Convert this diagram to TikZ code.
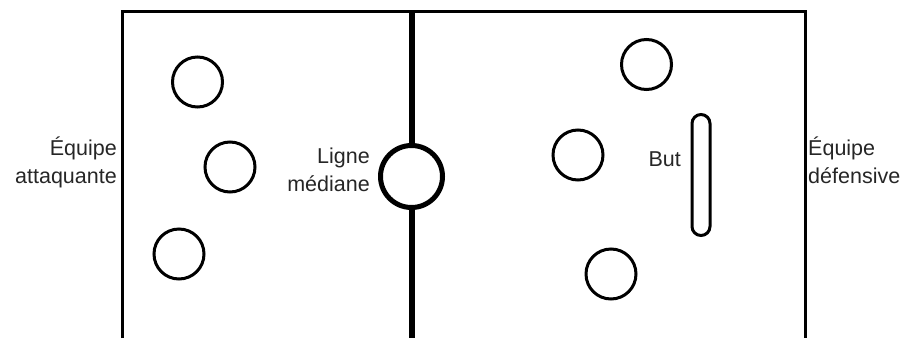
\documentclass[tikz,border=0pt]{standalone}
\usepackage{fontspec}
\setmainfont{Liberation Sans}
\begin{document}
\begin{tikzpicture}[x=1pt,y=-1pt,
  player/.style={circle,draw,line width=3pt,minimum size=50pt,inner sep=0pt},
  lbl/.style={font=\fontsize{21.5}{28}\selectfont,inner sep=0pt,text=black!85}]
\useasboundingbox (0,0) rectangle (902,338);
% field
\draw[line width=3pt] (122.5,338) -- (122.5,11.5) -- (805,11.5) -- (805,338);
% centre
\node[circle,draw,line width=5pt,minimum size=62pt,inner sep=0pt] (mid) at (411.5,176.5) {};
\coordinate (midtop) at (411.5,10);
\coordinate (midbot) at (411.5,338);
\draw[line width=6pt] (midtop) -- (mid.north);
\draw[line width=6pt] (mid.south) -- (midbot);
% attackers
\node[player] (a1) at (197.5,82) {};
\node[player] (a2) at (230,167) {};
\node[player] (a3) at (179,254) {};
% defenders
\node[player] (d1) at (646.5,64.5) {};
\node[player] (d2) at (578,155) {};
\node[player] (d3) at (611,274) {};
% goal
\node[draw,line width=3pt,rounded corners=9pt,minimum width=18pt,minimum height=121pt,inner sep=0pt] (goal) at (701,175) {};
% labels
\node[lbl,align=right,anchor=base east] (att) at (117,183) {Équipe\\attaquante};
\node[lbl,align=right,anchor=base east] (ligne) at (370,191) {Ligne\\médiane};
\node[lbl,anchor=base east] (but) at (681,166) {But};
\node[lbl,align=left,anchor=base west] (def) at (808,183) {Équipe\\défensive};
\end{tikzpicture}
\end{document}
